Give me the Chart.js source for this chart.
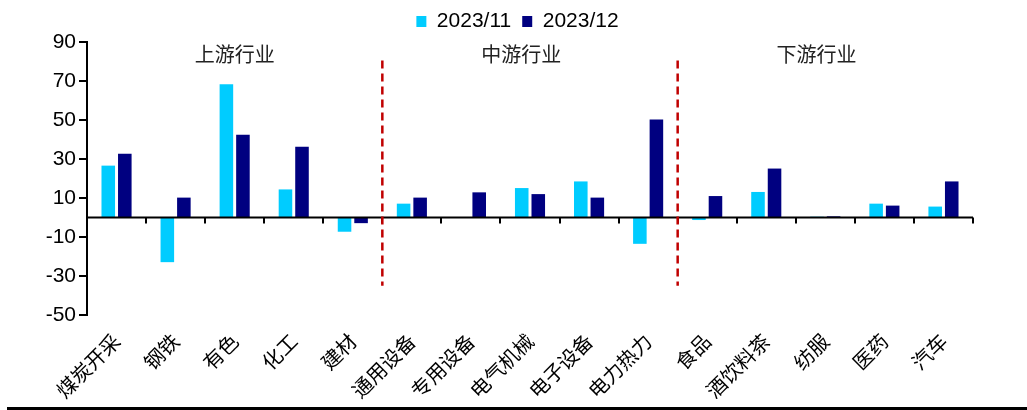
<!DOCTYPE html>
<html>
<head>
<meta charset="utf-8">
<script src="https://cdn.jsdelivr.net/npm/chart.js@4.4.1/dist/chart.umd.min.js"></script>
<style>
  html, body { margin: 0; padding: 0; background: #fff; }
  #wrap { position: relative; width: 1027px; height: 410px; }
  #rule { position: absolute; left: 7px; right: 0; top: 407px; height: 3px; background: #000; }
</style>
</head>
<body>
<div id="wrap">
  <canvas id="chart" width="1027" height="405"></canvas>
  <div id="rule"></div>
</div>
<script>
const categories = ['煤炭开采', '钢铁', '有色', '化工', '建材', '通用设备', '专用设备', '电气机械', '电子设备', '电力热力', '食品', '酒饮料茶', '纺服', '医药', '汽车'];
const nov2023 = [26.6, -22.9, 68.3, 14.4, -7.3, 7.1, 0, 15.1, 18.5, -13.5, -1.3, 13.1, 0.4, 7.1, 5.6];
const dec2023 = [32.7, 10.2, 42.4, 36.3, -2.9, 10.2, 12.9, 12.0, 10.2, 50.2, 11.0, 25.1, 0.6, 6.1, 18.5];
const seriesNames = ['2023/11', '2023/12'];
const sectionNames = ['上游行业', '中游行业', '下游行业'];
const sectionCenters = [2, 6.85, 11.85];
const dividers = [4.5, 9.5];

// legend sits a bit right of the canvas centre in the original
const legendShift = {
  id: 'legendShift',
  afterLayout(chart) {
    chart.legend.left += 26;
    chart.legend.right += 26;
  },
};

const sectionPlugin = {
  id: 'sections',
  afterDatasetsDraw(chart) {
    const x = chart.scales.x;
    const y = chart.scales.y;
    const c = chart.ctx;
    c.save();
    // zero axis with ticks
    const y0 = y.getPixelForValue(0);
    c.strokeStyle = '#000';
    c.lineWidth = 2;
    c.beginPath();
    c.moveTo(x.left, y0);
    c.lineTo(x.right, y0);
    for (let i = 0; i <= categories.length; i++) {
      const px = Math.round(x.getPixelForValue(i - 0.5));
      c.moveTo(px, y0);
      c.lineTo(px, y0 + 6);
    }
    c.stroke();
    // dividers
    c.strokeStyle = '#C00000';
    c.lineWidth = 2.5;
    c.setLineDash([8, 5]);
    for (const d of dividers) {
      const px = x.getPixelForValue(d);
      c.beginPath();
      c.moveTo(px, y.getPixelForValue(80.5));
      c.lineTo(px, y.getPixelForValue(-35));
      c.stroke();
    }
    c.setLineDash([]);
    // section titles
    c.fillStyle = '#222';
    c.font = '20px "Noto Sans CJK SC"';
    c.textAlign = 'center';
    c.textBaseline = 'middle';
    sectionNames.forEach((t, i) => {
      c.fillText(t, x.getPixelForValue(sectionCenters[i]), 54);
    });
    c.restore();
  },
};

new Chart(document.getElementById('chart').getContext('2d'), {
  type: 'bar',
  data: {
    labels: categories,
    datasets: [
      { label: seriesNames[0], data: nov2023, backgroundColor: '#00CCFF', categoryPercentage: 0.56, barPercentage: 0.82 },
      { label: seriesNames[1], data: dec2023, backgroundColor: '#000080', categoryPercentage: 0.56, barPercentage: 0.82 },
    ],
  },
  options: {
    responsive: false,
    animation: false,
    layout: { padding: { left: 10, right: 54, top: 0, bottom: 0 } },
    scales: {
      x: {
        grid: { display: false },
        border: { display: false },
        ticks: {
          color: '#000',
          font: { family: '"Noto Sans CJK SC"', size: 20 },
          minRotation: 45,
          maxRotation: 45,
          padding: 6,
          autoSkip: false,
        },
        afterFit(scale) { scale.height = 90; },
      },
      y: {
        min: -50,
        max: 90,
        ticks: {
          stepSize: 20,
          color: '#000',
          font: { family: '"Liberation Sans", Arial', size: 21 },
          padding: 3,
        },
        grid: { drawOnChartArea: false, drawTicks: true, tickLength: 8, color: '#000', lineWidth: 2 },
        border: { display: true, color: '#000', width: 2 },
        afterFit(scale) { scale.width = 77; },
      },
    },
    plugins: {
      legend: {
        position: 'top',
        labels: {
          color: '#000',
          font: { family: '"Liberation Sans", Arial', size: 21 },
          boxWidth: 10,
          boxHeight: 11,
          padding: 11,
        },
      },
      tooltip: { enabled: false },
    },
  },
  plugins: [legendShift, sectionPlugin],
});
</script>
</body>
</html>
